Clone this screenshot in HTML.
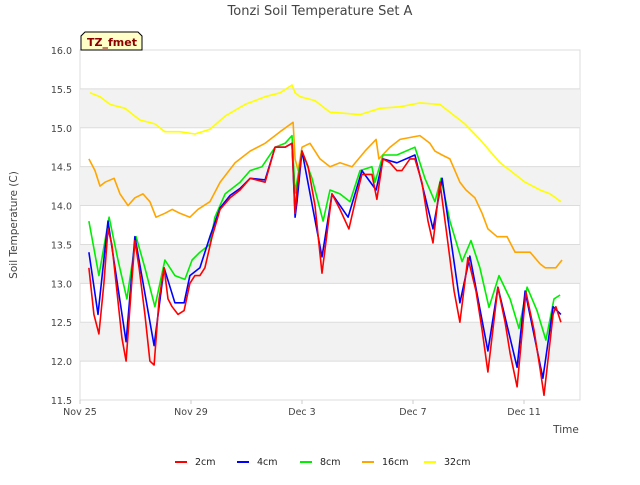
<!DOCTYPE html>
<html><head><meta charset="utf-8"><style>
body{margin:0;background:#fff;font-family:"Liberation Sans","DejaVu Sans",sans-serif}
svg text{font-family:"DejaVu Sans","Liberation Sans",sans-serif}
</style></head><body>
<svg id="c" width="640" height="480">
<rect width="640" height="480" fill="#fff"/>
<text x="320" y="15" text-anchor="middle" font-size="13" fill="#444">Tonzi Soil Temperature Set A</text>
<g id="bands"></g>
<g id="axes"></g>
<g id="lines"></g>
<g><path d="M81,50 L81,36 L85,32 L138,32 L142,36 L142,50 Z" fill="#ffffc8" stroke="#000" stroke-width="1"/><text x="87" y="46" font-size="11" font-weight="bold" fill="#8b0000">TZ_fmet</text></g>
<text x="17" y="225" transform="rotate(-90 17 225)" text-anchor="middle" font-size="10.5" fill="#444">Soil Temperature (C)</text>
<text x="566" y="433" text-anchor="middle" font-size="10.5" fill="#444">Time</text>
<g id="legend"></g>
</svg>
<script>
const yTicks=[11.5,12.0,12.5,13.0,13.5,14.0,14.5,15.0,15.5,16.0];
const xTickDays=[0,4,8,12,16];
const xTickLabels=["Nov 25","Nov 29","Dec 3","Dec 7","Dec 11"];
const seriesNames=["2cm","4cm","8cm","16cm","32cm"];
const seriesColors=["#ff0000","#0000ff","#00ee00","#ffa500","#ffff00"];
const t2=[.32,.50,.68,.86,1.01,1.15,1.33,1.51,1.66,1.84,1.98,2.13,2.34,2.52,2.67,2.85,3.03,3.17,3.32,3.53,3.75,3.96,4.14,4.32,4.50,4.76,5.05,5.41,5.77,6.13,6.67,7.03,7.39,7.64,7.75,7.82,8.0,8.22,8.47,8.72,9.08,9.37,9.69,9.95,10.16,10.52,10.70,10.92,11.17,11.42,11.60,11.89,12.07,12.32,12.54,12.72,12.97,13.23,13.48,13.69,13.98,14.27,14.49,14.70,15.06,15.32,15.50,15.75,16.07,16.36,16.58,16.72,17.05,17.15,17.33];
const v2=[13.2,12.6,12.35,13.0,13.7,13.5,12.9,12.3,12.0,12.9,13.55,13.2,12.6,12.0,11.95,12.8,13.2,12.8,12.7,12.6,12.65,13.0,13.1,13.1,13.2,13.6,13.95,14.1,14.2,14.35,14.3,14.75,14.75,14.8,13.9,14.2,14.7,14.5,14.0,13.13,14.15,13.95,13.7,14.1,14.4,14.4,14.08,14.6,14.55,14.45,14.45,14.6,14.6,14.3,13.8,13.52,14.3,13.6,12.9,12.5,13.33,12.9,12.4,11.86,12.95,12.5,12.1,11.67,12.89,12.4,11.9,11.56,12.6,12.7,12.5];
const t4=[.32,.65,1.01,1.66,1.98,2.67,3.03,3.42,3.75,3.96,4.32,4.68,5.05,5.41,5.77,6.13,6.67,7.03,7.39,7.64,7.75,7.82,8.0,8.72,9.08,9.66,10.16,10.67,10.92,11.42,12.07,12.72,13.05,13.69,14.05,14.70,15.06,15.75,16.04,16.68,17.05,17.33];
const v4=[13.4,12.6,13.8,12.25,13.6,12.2,13.2,12.75,12.75,13.1,13.2,13.6,13.97,14.13,14.22,14.35,14.33,14.75,14.75,14.8,13.85,14.05,14.7,13.34,14.15,13.85,14.45,14.2,14.6,14.55,14.65,13.7,14.35,12.75,13.35,12.13,12.95,11.92,12.9,11.78,12.7,12.6];
const t8=[.32,.68,1.05,1.37,1.69,2.02,2.34,2.70,3.06,3.42,3.78,4.04,4.32,4.68,4.86,5.23,5.77,6.13,6.56,7.03,7.39,7.64,7.75,8.0,8.36,8.76,9.01,9.37,9.73,10.09,10.52,10.63,10.92,11.42,12.07,12.43,12.79,13.01,13.33,13.77,14.09,14.41,14.74,15.10,15.50,15.82,16.11,16.47,16.79,17.08,17.30];
const v8=[13.8,13.1,13.85,13.3,12.8,13.6,13.2,12.7,13.3,13.1,13.05,13.3,13.4,13.5,13.85,14.15,14.3,14.45,14.5,14.75,14.8,14.9,14.16,14.7,14.35,13.8,14.2,14.15,14.05,14.45,14.5,14.3,14.65,14.65,14.75,14.35,14.05,14.35,13.8,13.28,13.55,13.2,12.69,13.1,12.8,12.42,12.95,12.65,12.27,12.8,12.85];
const t16=[.32,.54,.72,.90,1.23,1.44,1.73,1.98,2.27,2.52,2.74,3.06,3.32,3.60,3.96,4.25,4.68,5.05,5.59,6.13,6.67,7.21,7.68,7.75,7.86,8.0,8.29,8.65,9.01,9.37,9.80,10.27,10.67,10.77,11.17,11.53,12.25,12.61,12.79,13.05,13.33,13.69,13.91,14.23,14.49,14.70,15.03,15.39,15.68,16.22,16.58,16.76,17.15,17.37];
const v16=[14.6,14.45,14.25,14.3,14.35,14.15,14.0,14.1,14.15,14.05,13.85,13.9,13.95,13.9,13.85,13.95,14.05,14.3,14.55,14.7,14.8,14.95,15.07,14.6,14.45,14.75,14.8,14.6,14.5,14.55,14.5,14.7,14.85,14.6,14.75,14.85,14.9,14.8,14.7,14.65,14.6,14.3,14.2,14.1,13.9,13.7,13.6,13.6,13.4,13.4,13.25,13.2,13.2,13.3];
const t32=[.36,.72,1.08,1.62,1.80,2.16,2.70,3.06,3.60,4.14,4.68,5.23,5.95,6.67,7.21,7.64,7.75,7.93,8.47,9.01,10.09,10.81,11.53,12.25,12.97,13.33,13.87,14.41,14.77,15.14,15.68,16.04,16.58,16.94,17.33];
const v32=[15.45,15.4,15.3,15.25,15.2,15.1,15.05,14.95,14.95,14.92,14.98,15.15,15.3,15.4,15.45,15.55,15.45,15.4,15.35,15.2,15.17,15.25,15.27,15.32,15.3,15.2,15.05,14.85,14.7,14.55,14.4,14.3,14.2,14.15,14.05];
const L=80,R=580,T=50,B=400,dayW=27.75;
const xs=d=>L+d*dayW, ys=v=>B-(v-11.5)/(16-11.5)*(B-T);
const NS="http://www.w3.org/2000/svg";
function mk(tag,at,parent){const e=document.createElementNS(NS,tag);for(const k in at)e.setAttribute(k,at[k]);parent.appendChild(e);return e;}
const bands=document.getElementById('bands'),axes=document.getElementById('axes'),lines=document.getElementById('lines'),legend=document.getElementById('legend');
mk('rect',{x:L,y:T,width:R-L,height:B-T,fill:'#fff',stroke:'#ddd'},bands);
for(let i=0;i<yTicks.length-1;i++){if(i%2===1){const r=mk('rect',{x:L,y:ys(yTicks[i+1]),width:R-L,height:ys(yTicks[i])-ys(yTicks[i+1]),fill:'#f2f2f2'},bands);

}}
yTicks.forEach(v=>{const y=ys(v);
const g=mk('line',{x1:L,x2:R,y1:y,y2:y,stroke:'#dcdcdc','stroke-width':1},axes);


const t=mk('text',{x:L-8,y:y+4,'text-anchor':'end','font-size':9.5,fill:'#444'},axes);t.textContent=v.toFixed(1);

});
xTickDays.forEach((d,i)=>{const x=xs(d);
mk('line',{x1:x,x2:x,y1:B,y2:B+4,stroke:'#ccc'},axes);
const t=mk('text',{x:x,y:B+15,'text-anchor':'middle','font-size':9.5,fill:'#444'},axes);t.textContent=xTickLabels[i];

});
const data=[[t2,v2],[t4,v4],[t8,v8],[t16,v16],[t32,v32]];
[4,3,2,1,0].forEach(i=>{const [t,v]=data[i];
const p=mk('polyline',{points:t.map((d,j)=>xs(d).toFixed(1)+','+ys(v[j]).toFixed(1)).join(' '),fill:'none',stroke:seriesColors[i],'stroke-width':1.6,'stroke-linejoin':'round'},lines);

});
const lx=[183,245,308,370,432];
seriesNames.forEach((n,i)=>{const g=mk('g',{},legend);


mk('line',{x1:lx[i]-8,x2:lx[i]+4,y1:462,y2:462,stroke:seriesColors[i],'stroke-width':2},g);
const t=mk('text',{x:lx[i]+12,y:465,'font-size':9.5,fill:'#222'},g);t.textContent=n;});
</script>
</body></html>
